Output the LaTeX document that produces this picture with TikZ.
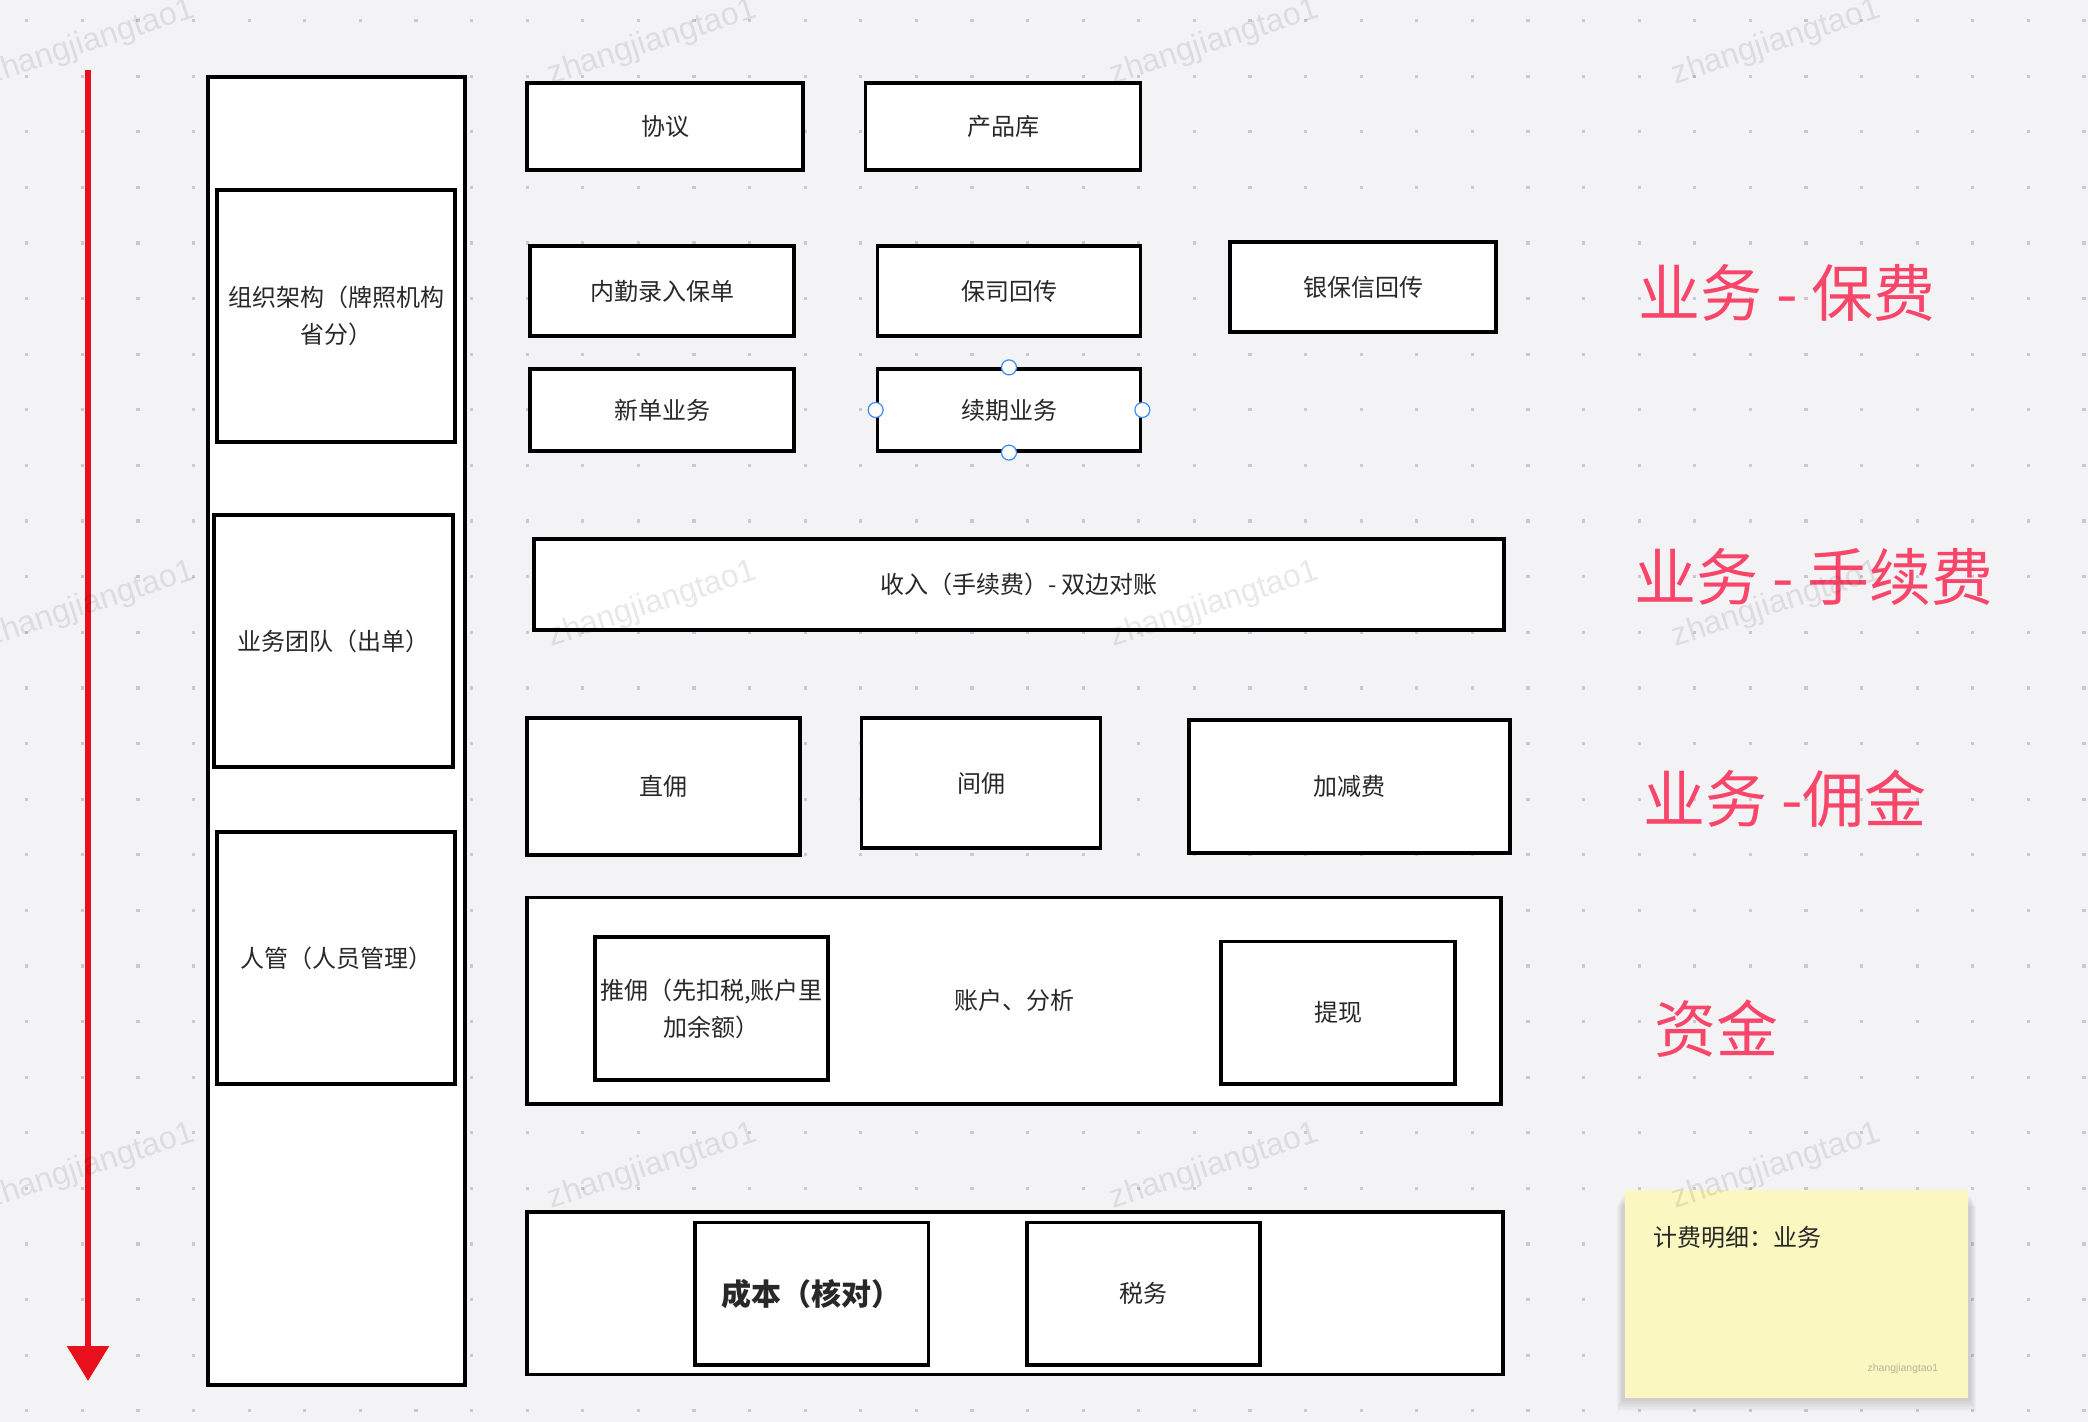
\documentclass[tikz,border=0pt]{standalone}
\usepackage{fontspec}
\newfontfamily\cjk{Noto Sans CJK SC}
\newfontfamily\wmfont{Liberation Sans}
\usetikzlibrary{arrows.meta}
\definecolor{bgc}{RGB}{243,243,245}
\definecolor{dotc}{RGB}{202,202,206}
\definecolor{arrowred}{RGB}{232,16,28}
\definecolor{tagred}{RGB}{247,70,106}
\definecolor{notey}{RGB}{250,247,192}
\definecolor{handleblue}{RGB}{59,140,245}
\definecolor{txt}{RGB}{40,40,40}

\begin{document}
\begin{tikzpicture}[x=0.5pt,y=-0.5pt,
        blk/.style={draw=black,line width=1.6pt,fill=white,inner sep=0pt,align=center,text=txt,font=\cjk\fontsize{12}{18.5}\selectfont},
        tag/.style={anchor=west,inner sep=0pt,text=tagred,font=\cjk\fontsize{31}{36}\selectfont},
        handle/.style={circle,draw=handleblue,line width=0.6pt,fill=white,minimum size=7.5pt,inner sep=0pt},
        wm/.style={rotate=18,inner sep=0pt,text=black,text opacity=0.09,font=\wmfont\fontsize{16}{16}\selectfont}]
        \useasboundingbox (0,0) rectangle (2088,1422);
        \clip (0,0) rectangle (2088,1422);
        \fill[bgc] (0,0) rectangle (2088,1422);
        % 背景点阵
        \foreach \i in {0,...,37}
            \foreach \j in {0,...,25}
                \fill[dotc] ({26.7+55.6*\i-1.6},{20.7+55.6*\j-1.6}) rectangle +(3.2,3.2);
        % 左侧红色箭头
        \coordinate (arrtop) at (88,70);
        \coordinate (arrbot) at (88,1381);
        \draw[arrowred,line width=3pt,-{Triangle[length=17.5pt,width=20.5pt]}] (arrtop) -- (arrbot);
        % 左侧纵向大框
        \node[blk,minimum width=128.5pt,minimum height=654pt] (col) at (336.5,731) {};
        \node[blk,minimum width=119pt,minimum height=126pt] (zuzhi) at (336,316) {组织架构（牌照机构\\省分）};
        \node[blk,minimum width=119.5pt,minimum height=126pt] (tuandui) at (333.5,641) {业务团队（出单）};
        \node[blk,minimum width=119pt,minimum height=126pt] (renguan) at (336,958) {人管（人员管理）};
        % 保费相关
        \node[blk,minimum width=138pt,minimum height=43.5pt] (xieyi) at (665,126.5) {协议};
        \node[blk,minimum width=137.75pt,minimum height=43.5pt] (chanpin) at (1003,126.5) {产品库};
        \node[blk,minimum width=132pt,minimum height=45pt] (luru) at (662,291) {内勤录入保单};
        \node[blk,minimum width=131.75pt,minimum height=45pt] (huichuan) at (1009,291) {保司回传};
        \node[blk,minimum width=133pt,minimum height=45pt] (yinbaoxin) at (1363,287) {银保信回传};
        \node[blk,minimum width=132pt,minimum height=41pt] (xindan) at (662,410) {新单业务};
        \node[blk,minimum width=131.75pt,minimum height=41pt] (xuqi) at (1009,410) {续期业务};
        % 选中框的四个控制点
        \foreach \a in {north,south,east,west}
            \node[handle] (xuqi-\a) at (xuqi.\a) {};
        % 手续费
        \node[blk,minimum width=485pt,minimum height=45.5pt] (shouru) at (1019,584.5) {收入（手续费）- 双边对账};
        % 佣金
        \node[blk,minimum width=136.5pt,minimum height=68.5pt] (zhiyong) at (663.5,786.5) {直佣};
        \node[blk,minimum width=119.75pt,minimum height=65pt] (jianyong) at (981,783) {间佣};
        \node[blk,minimum width=160.5pt,minimum height=66.5pt] (jiajian) at (1349.5,786.5) {加减费};
        % 资金
        \node[blk,minimum width=487pt,minimum height=103.25pt] (zijin) at (1014,1000.75) {账户、分析};
        \node[blk,minimum width=116.5pt,minimum height=71.5pt] (tuiyong) at (711.5,1008.5) {推佣（先扣税,账户里\\加余额）};
        \node[blk,minimum width=117pt,minimum height=71.25pt] (tixian) at (1338,1012.75) {提现};
        % 成本与税务
        \node[blk,minimum width=488pt,minimum height=81.25pt] (dibu) at (1015,1293.25) {};
        \node[blk,minimum width=116.75pt,minimum height=71.25pt,font=\cjk\bfseries\fontsize{15}{18}\selectfont] (chengben) at (811.75,1293.75) {成本（核对）};
        \node[blk,minimum width=116.5pt,minimum height=71.25pt] (shuiwu) at (1143.5,1293.75) {税务};
        % 右侧红字标注
        \node[tag] (baofei) at (1638,293) {业务 - 保费};
        \node[tag] (shouxu) at (1634,577) {业务 - 手续费};
        \node[tag] (yongjin) at (1643,799) {业务 -佣金};
        \node[tag] (zijintag) at (1654,1029) {资金};
        % 便签及阴影
        \foreach \k in {1,...,6}
            \fill[black,opacity=0.025] (1623-\k,1194+2*\k) rectangle (1969.5+\k,1399+2*\k);
        \node[fill=notey,minimum width=171.25pt,minimum height=103.75pt,inner sep=0pt] (note) at (1796.25,1293.75) {};
        \node[anchor=west,inner sep=0pt,text=txt,font=\cjk\fontsize{12}{14}\selectfont] (notetext) at (1653,1237) {计费明细：业务};
        \node[inner sep=0pt,text={rgb,255:red,185;green,181;blue,155},font=\wmfont\fontsize{5.2}{6}\selectfont] (notewm) at (1903,1369) {zhangjiangtao1};
        % 水印
        \foreach \i in {0,...,3}
            \foreach \j in {0,1,2}
                \node[wm] (wm-\i-\j) at ({90.5+562*\i},{42.6+562*\j}) {zhangjiangtao1};
\end{tikzpicture}
\end{document}
